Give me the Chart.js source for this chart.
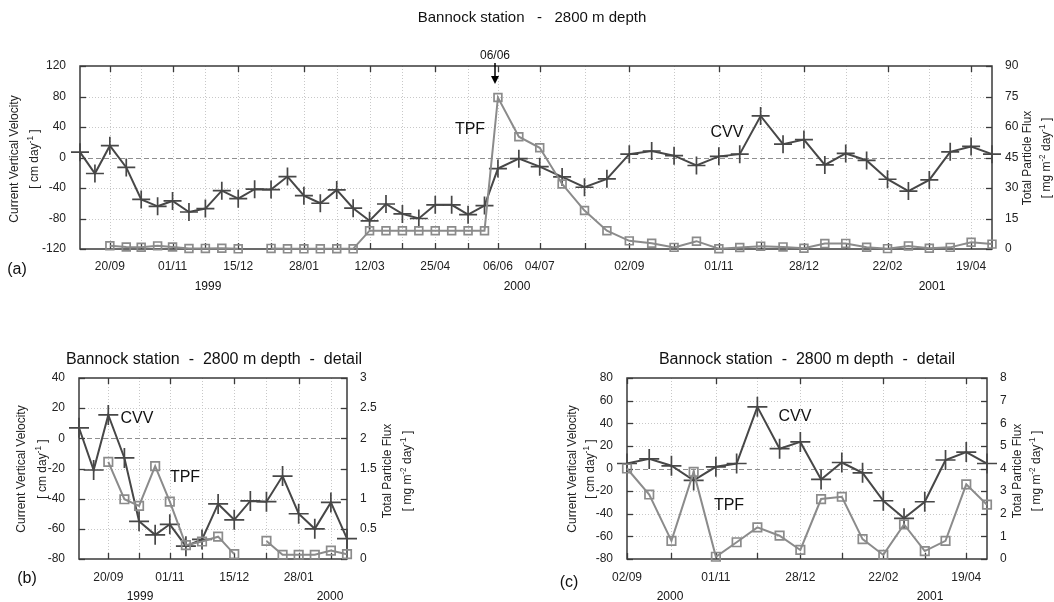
<!DOCTYPE html>
<html><head><meta charset="utf-8">
<script src="https://cdn.jsdelivr.net/npm/chart.js@4.4.0/dist/chart.umd.min.js"></script>
<style>
html,body{margin:0;padding:0;background:#fff;}
#wrap{position:relative;width:1054px;height:602px;overflow:hidden;background:#fff;}
canvas{position:absolute;}
</style></head><body>
<div id="wrap">
<canvas id="ca" width="1054" height="300" style="left:0;top:0;width:1054px;height:300px"></canvas>
<canvas id="cb" width="527" height="302" style="left:0;top:300px;width:527px;height:302px"></canvas>
<canvas id="cc" width="527" height="302" style="left:527px;top:300px;width:527px;height:302px"></canvas>
</div>
<script>
// ---- data ----
const sampleDates = [
  '1999-08-31','1999-09-10','1999-09-20','1999-10-01','1999-10-11','1999-10-22','1999-11-01','1999-11-12',
  '1999-11-23','1999-12-04','1999-12-15','1999-12-26','2000-01-06','2000-01-17','2000-01-28','2000-02-08',
  '2000-02-19','2000-03-01','2000-03-12','2000-03-23','2000-04-03','2000-04-14','2000-04-25','2000-05-06',
  '2000-05-17','2000-05-28','2000-06-06','2000-06-20','2000-07-04','2000-07-19','2000-08-03','2000-08-18',
  '2000-09-02','2000-09-17','2000-10-02','2000-10-17','2000-11-01','2000-11-15','2000-11-29','2000-12-14',
  '2000-12-28','2001-01-11','2001-01-25','2001-02-08','2001-02-22','2001-03-08','2001-03-22','2001-04-05',
  '2001-04-19','2001-05-03'
];
// Current Vertical Velocity [cm/day]
const cvv = [
  7, -21, 15.5, -13, -55, -64, -57, -71.5,
  -67, -43.5, -54, -41.5, -42, -25, -50, -60,
  -42.5, -66.5, -83, -61, -74, -80, -62, -62,
  -75, -63, -14.5, -1.5, -12, -25.5, -39, -28,
  4.4, 8.5, 2.4, -10.5, 1.5, 4.4, 54.5, 17.5,
  23.5, -9.7, 5.3, -3.8, -28.5, -44, -29.4, 7.5,
  14.5, 4.4
];
// Total Particle Flux [mg m-2 day-1]
const tpf = [
  null, null, 1.61, 0.99, 0.88, 1.54, 0.95, 0.23,
  0.29, 0.37, 0.08, null, 0.30, 0.07, 0.07, 0.07,
  0.14, 0.08, 9.0, 9.0, 9.0, 9.0, 9.0, 9.0,
  9.0, 9.0, 74.5, 55.2, 49.8, 32, 18.9, 9.0,
  4.0, 2.85, 0.8, 3.85, 0.1, 0.74, 1.4, 1.03,
  0.4, 2.65, 2.75, 0.88, 0.18, 1.53, 0.35, 0.8,
  3.3, 2.4
];
const labeledDates = ['1999-09-20','1999-11-01','1999-12-15','2000-01-28','2000-03-12','2000-04-25',
  '2000-06-06','2000-07-04','2000-09-02','2000-11-01','2000-12-28','2001-02-22','2001-04-19'];
const cvvTicksA = [-120, 120, 40], tpfTicksA = [0, 90, 15];
const cvvTicksB = [-80, 40, 20],   tpfTicksB = [0, 3, 0.5];
const cvvTicksC = [-80, 80, 20],   tpfTicksC = [0, 8, 1];

// ---- helpers ----
const FAM = '"Liberation Sans", Arial, Helvetica, sans-serif';
const dayNum = s => Date.UTC(+s.slice(0,4), +s.slice(5,7)-1, +s.slice(8,10)) / 86400000;
const days = sampleDates.map(dayNum);
const labelMap = {};
labeledDates.forEach(s => { labelMap[dayNum(s)] = s.slice(8,10) + '/' + s.slice(5,7); });

function drawRich(ctx, x, y, rot, parts, size, color) {
  ctx.save();
  ctx.translate(x, y); ctx.rotate(rot);
  ctx.fillStyle = color; ctx.textBaseline = 'middle'; ctx.textAlign = 'left';
  let w = 0;
  parts.forEach(p => { ctx.font = (p.sup ? size*0.68 : size) + 'px ' + FAM; w += ctx.measureText(p.t).width; });
  let cx = -w/2;
  parts.forEach(p => {
    ctx.font = (p.sup ? size*0.68 : size) + 'px ' + FAM;
    ctx.fillText(p.t, cx, p.sup ? -size*0.38 : 0);
    cx += ctx.measureText(p.t).width;
  });
  ctx.restore();
}

const decoPlugin = {
  id: 'deco',
  beforeDatasetsDraw(chart, args, o) {
    const ctx = chart.ctx, a = chart.chartArea;
    const xs = chart.scales.x, ys = chart.scales.y, y2 = chart.scales.y2;
    ctx.save();
    ctx.lineWidth = 1;
    // dotted grid
    ctx.strokeStyle = '#c8c8c8'; ctx.setLineDash([1, 2]);
    xs.ticks.forEach(t => {
      const px = Math.round(xs.getPixelForValue(t.value)) + 0.5;
      if (px <= a.left + 1 || px >= a.right - 1) return;
      ctx.beginPath(); ctx.moveTo(px, a.top); ctx.lineTo(px, a.bottom); ctx.stroke();
    });
    ys.ticks.forEach(t => {
      if (t.value === ys.min || t.value === ys.max || t.value === 0) return;
      const py = Math.round(ys.getPixelForValue(t.value)) + 0.5;
      ctx.beginPath(); ctx.moveTo(a.left, py); ctx.lineTo(a.right, py); ctx.stroke();
    });
    // zero line
    ctx.strokeStyle = '#8f8f8f'; ctx.setLineDash([5, 3]);
    const pz = Math.round(ys.getPixelForValue(0)) + 0.5;
    ctx.beginPath(); ctx.moveTo(a.left, pz); ctx.lineTo(a.right, pz); ctx.stroke();
    // frame
    ctx.setLineDash([]); ctx.strokeStyle = '#3a3a3a'; ctx.lineWidth = 1.5;
    ctx.strokeRect(a.left, a.top, a.right - a.left, a.bottom - a.top);
    // inward tick marks
    ctx.lineWidth = 1.3; ctx.strokeStyle = '#3a3a3a';
    const TL = 6;
    xs.ticks.forEach(t => {
      const px = Math.round(xs.getPixelForValue(t.value)) + 0.5;
      ctx.beginPath(); ctx.moveTo(px, a.bottom); ctx.lineTo(px, a.bottom - TL); ctx.stroke();
      if (labelMap[t.value] !== undefined) {
        ctx.beginPath(); ctx.moveTo(px, a.top); ctx.lineTo(px, a.top + TL); ctx.stroke();
      }
    });
    ys.ticks.forEach(t => {
      const py = Math.round(ys.getPixelForValue(t.value)) + 0.5;
      ctx.beginPath(); ctx.moveTo(a.left, py); ctx.lineTo(a.left + TL, py); ctx.stroke();
    });
    y2.ticks.forEach(t => {
      const py = Math.round(y2.getPixelForValue(t.value)) + 0.5;
      ctx.beginPath(); ctx.moveTo(a.right, py); ctx.lineTo(a.right - TL, py); ctx.stroke();
    });
    ctx.restore();
  },
  afterDraw(chart, args, o) {
    const ctx = chart.ctx;
    ctx.save();
    (o.texts || []).forEach(t => {
      ctx.font = (t.bold ? 'bold ' : '') + t.size + 'px ' + FAM;
      ctx.fillStyle = t.color || '#111';
      ctx.textAlign = 'center'; ctx.textBaseline = 'middle';
      ctx.fillText(t.text, t.x, t.y);
    });
    (o.rich || []).forEach(r => drawRich(ctx, r.x, r.y, -Math.PI/2, r.parts, r.size, '#222'));
    if (o.arrow) {
      const ar = o.arrow;
      ctx.strokeStyle = '#000'; ctx.fillStyle = '#000'; ctx.lineWidth = 1.5;
      ctx.beginPath(); ctx.moveTo(ar.x, ar.y0); ctx.lineTo(ar.x, ar.y1 - 5); ctx.stroke();
      ctx.beginPath(); ctx.moveTo(ar.x, ar.y1); ctx.lineTo(ar.x - 4, ar.y1 - 8); ctx.lineTo(ar.x + 4, ar.y1 - 8); ctx.closePath(); ctx.fill();
    }
    ctx.restore();
  }
};

const cvvTitle = [
  {parts: [{t: 'Current Vertical Velocity'}]},
  {parts: [{t: '[ cm day'}, {t: '-1', sup: true}, {t: ' ]'}]}
];
const tpfTitle = [
  {parts: [{t: 'Total Particle Flux'}]},
  {parts: [{t: '[ mg m'}, {t: '-2', sup: true}, {t: ' day'}, {t: '-1', sup: true}, {t: ' ]'}]}
];

function makePanel(id, W, H, i0, i1, area, yT, y2T, xPad, pr, deco) {
  const idx = [];
  for (let i = i0; i <= i1; i++) idx.push(i);
  const gridDays = idx.filter(i => (i - 2) % 2 === 0 && i >= 2).map(i => days[i]);
  const numFmt = v => String(+(+v).toFixed(2));
  new Chart(document.getElementById(id), {
    type: 'line',
    data: {
      datasets: [
        {
          label: 'TPF', yAxisID: 'y2', order: 1,
          data: idx.map(i => ({x: days[i], y: tpf[i]})),
          borderColor: '#8b8b8b', borderWidth: 2, tension: 0, spanGaps: false, fill: false,
          pointStyle: 'rect', pointRadius: pr.rect, pointBorderWidth: 1.7,
          pointBorderColor: '#8b8b8b', pointBackgroundColor: 'rgba(255,255,255,0)', clip: false
        },
        {
          label: 'CVV', yAxisID: 'y', order: 2,
          data: idx.map(i => ({x: days[i], y: cvv[i]})),
          borderColor: '#474747', borderWidth: 2, tension: 0, fill: false,
          pointStyle: 'cross', pointRadius: pr.cross, pointBorderWidth: 1.7,
          pointBorderColor: '#474747', pointBackgroundColor: '#474747', clip: false
        }
      ]
    },
    options: {
      responsive: false, animation: false, devicePixelRatio: 1,
      layout: {padding: {top: area.top, left: 0, right: 0, bottom: 0}},
      plugins: {legend: {display: false}, tooltip: {enabled: false}, title: {display: false}, deco: deco},
      events: [],
      scales: {
        x: {
          type: 'linear', min: days[i0], max: days[i1],
          afterBuildTicks: s => { s.ticks = gridDays.map(v => ({value: v})); },
          afterFit: s => { s.height = H - area.bottom; },
          grid: {display: false}, border: {display: false},
          ticks: {autoSkip: false, maxRotation: 0, minRotation: 0, padding: xPad, color: '#222',
            font: {family: FAM, size: 12}, callback: v => (labelMap[v] !== undefined ? labelMap[v] : '')}
        },
        y: {
          position: 'left', min: yT[0], max: yT[1],
          afterFit: s => { s.width = area.left; },
          grid: {display: false}, border: {display: false},
          ticks: {stepSize: yT[2], padding: 6, color: '#222', font: {family: FAM, size: 12}, callback: numFmt}
        },
        y2: {
          position: 'right', min: y2T[0], max: y2T[1],
          afterFit: s => { s.width = W - area.right; },
          grid: {display: false}, border: {display: false},
          ticks: {stepSize: y2T[2], padding: 5, color: '#222', font: {family: FAM, size: 12}, callback: numFmt}
        }
      }
    },
    plugins: [decoPlugin]
  });
}

// Panel (a)
makePanel('ca', 1054, 300, 0, 49, {left: 80, right: 992, top: 66, bottom: 249},
  cvvTicksA, tpfTicksA, 2, {cross: 9, rect: 5.5},
  {
    texts: [
      {text: 'Bannock station   -   2800 m depth', x: 532, y: 18, size: 15},
      {text: '06/06', x: 495, y: 56, size: 12},
      {text: 'TPF', x: 470, y: 130, size: 16},
      {text: 'CVV', x: 727, y: 133, size: 16},
      {text: '1999', x: 208, y: 287, size: 12},
      {text: '2000', x: 517, y: 287, size: 12},
      {text: '2001', x: 932, y: 287, size: 12},
      {text: '(a)', x: 17, y: 270, size: 16}
    ],
    rich: [
      {x: 15, y: 159, size: 12, parts: cvvTitle[0].parts},
      {x: 35, y: 159, size: 12, parts: cvvTitle[1].parts},
      {x: 1028, y: 158, size: 12, parts: tpfTitle[0].parts},
      {x: 1047, y: 158, size: 12, parts: tpfTitle[1].parts}
    ],
    arrow: {x: 495, y0: 63, y1: 84}
  });

// Panel (b)
makePanel('cb', 527, 302, 0, 17, {left: 79, right: 347, top: 78, bottom: 259},
  cvvTicksB, tpfTicksB, 3, {cross: 10, rect: 6},
  {
    texts: [
      {text: 'Bannock station  -  2800 m depth  -  detail', x: 214, y: 60, size: 16},
      {text: 'CVV', x: 137, y: 119, size: 16},
      {text: 'TPF', x: 185, y: 178, size: 16},
      {text: '1999', x: 140, y: 297, size: 12},
      {text: '2000', x: 330, y: 297, size: 12},
      {text: '(b)', x: 27, y: 279, size: 16}
    ],
    rich: [
      {x: 22, y: 169, size: 12, parts: cvvTitle[0].parts},
      {x: 43, y: 169, size: 12, parts: cvvTitle[1].parts},
      {x: 388, y: 171, size: 12, parts: tpfTitle[0].parts},
      {x: 408, y: 171, size: 12, parts: tpfTitle[1].parts}
    ]
  });

// Panel (c)
makePanel('cc', 527, 302, 32, 49, {left: 100, right: 460, top: 78, bottom: 259},
  cvvTicksC, tpfTicksC, 3, {cross: 10, rect: 6},
  {
    texts: [
      {text: 'Bannock station  -  2800 m depth  -  detail', x: 280, y: 60, size: 16},
      {text: 'CVV', x: 268, y: 117, size: 16},
      {text: 'TPF', x: 202, y: 206, size: 16},
      {text: '2000', x: 143, y: 297, size: 12},
      {text: '2001', x: 403, y: 297, size: 12},
      {text: '(c)', x: 42, y: 283, size: 16}
    ],
    rich: [
      {x: 46, y: 169, size: 12, parts: cvvTitle[0].parts},
      {x: 64, y: 169, size: 12, parts: cvvTitle[1].parts},
      {x: 491, y: 171, size: 12, parts: tpfTitle[0].parts},
      {x: 510, y: 171, size: 12, parts: tpfTitle[1].parts}
    ]
  });
</script>
</body></html>
